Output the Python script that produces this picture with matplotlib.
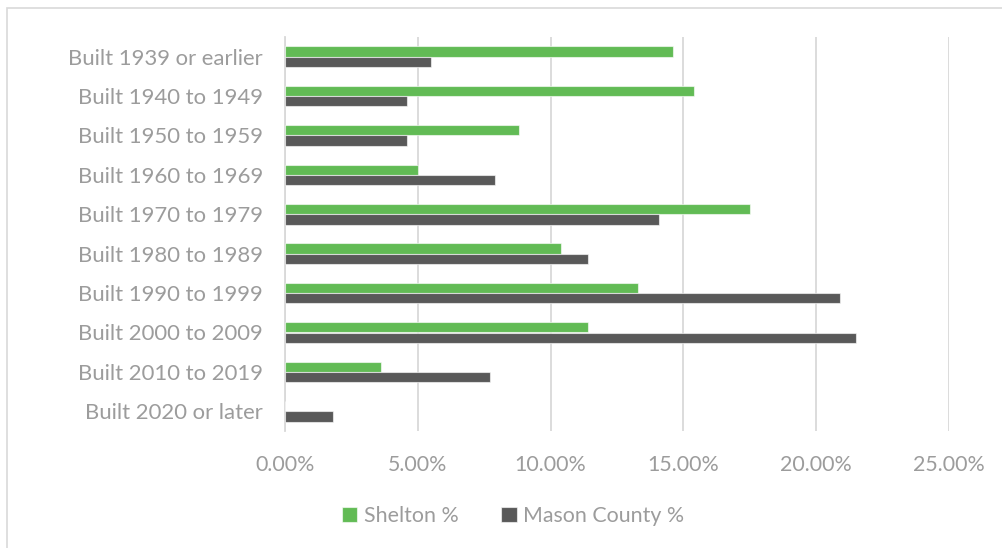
import matplotlib
matplotlib.use("Agg")
import matplotlib.pyplot as plt
from matplotlib.patches import Rectangle
from matplotlib.ticker import FuncFormatter
import numpy as np

categories = ["Built 1939 or earlier", "Built 1940 to 1949", "Built 1950 to 1959",
              "Built 1960 to 1969", "Built 1970 to 1979", "Built 1980 to 1989",
              "Built 1990 to 1999", "Built 2000 to 2009", "Built 2010 to 2019",
              "Built 2020 or later"]
shelton = [14.6, 15.4, 8.8, 5.0, 17.5, 10.4, 13.3, 11.4, 3.6, 0.0]
mason = [5.5, 4.6, 4.6, 7.9, 14.1, 11.4, 20.9, 21.5, 7.7, 1.8]
series_names = ["Shelton %", "Mason County %"]
xticks = [0, 5, 10, 15, 20, 25]

GREEN = "#62BB55"
GREY = "#595959"
TXT = "#9C9C9C"
GRID = "#D9D9D9"

plt.rcParams['font.family'] = ['Lato', 'DejaVu Sans']

W, H = 1002, 548
fig = plt.figure(figsize=(W / 100, H / 100), dpi=100)
ax = fig.add_axes([285 / W, 1 - 431 / H, (949 - 285) / W, (431 - 37) / H])

n = len(categories)
y = np.arange(n)
bh = 0.26
ax.barh(y - bh / 2, shelton, height=bh, color=GREEN, edgecolor=(1, 1, 1, 0.6),
        linewidth=0.8, label=series_names[0], zorder=3)
ax.barh(y + bh / 2, mason, height=bh, color=GREY, edgecolor=(1, 1, 1, 0.6),
        linewidth=0.8, label=series_names[1], zorder=3)

ax.set_ylim(n - 0.5, -0.5)
ax.set_xlim(0, 25)
ax.set_xticks(xticks)
ax.xaxis.set_major_formatter(FuncFormatter(lambda v, p: f"{v:.2f}%"))
ax.set_yticks(y)
ax.set_yticklabels(categories)
ax.grid(axis='x', color=GRID, linewidth=1.3, zorder=0)
for s in ['top', 'right', 'bottom']:
    ax.spines[s].set_visible(False)
ax.spines['left'].set_color(GRID)
ax.spines['left'].set_linewidth(1.3)
ax.tick_params(axis='y', length=0, colors=TXT, labelsize=15.9, pad=16)
ax.tick_params(axis='x', length=0, colors=TXT, labelsize=15.4, pad=17)

leg = fig.legend(loc='center', bbox_to_anchor=(513 / W, 1 - 516 / H), ncol=2,
                 frameon=False, fontsize=15.4, handlelength=0.72, handleheight=0.72,
                 handletextpad=0.3, columnspacing=2.0, labelcolor=TXT)

fig.patches.append(Rectangle((7 / W, -0.1), 1.2, 1 - 8 / H + 0.1,
                             transform=fig.transFigure, fill=False,
                             edgecolor=GRID, linewidth=1.2))

fig.savefig("out.png", dpi=100)
